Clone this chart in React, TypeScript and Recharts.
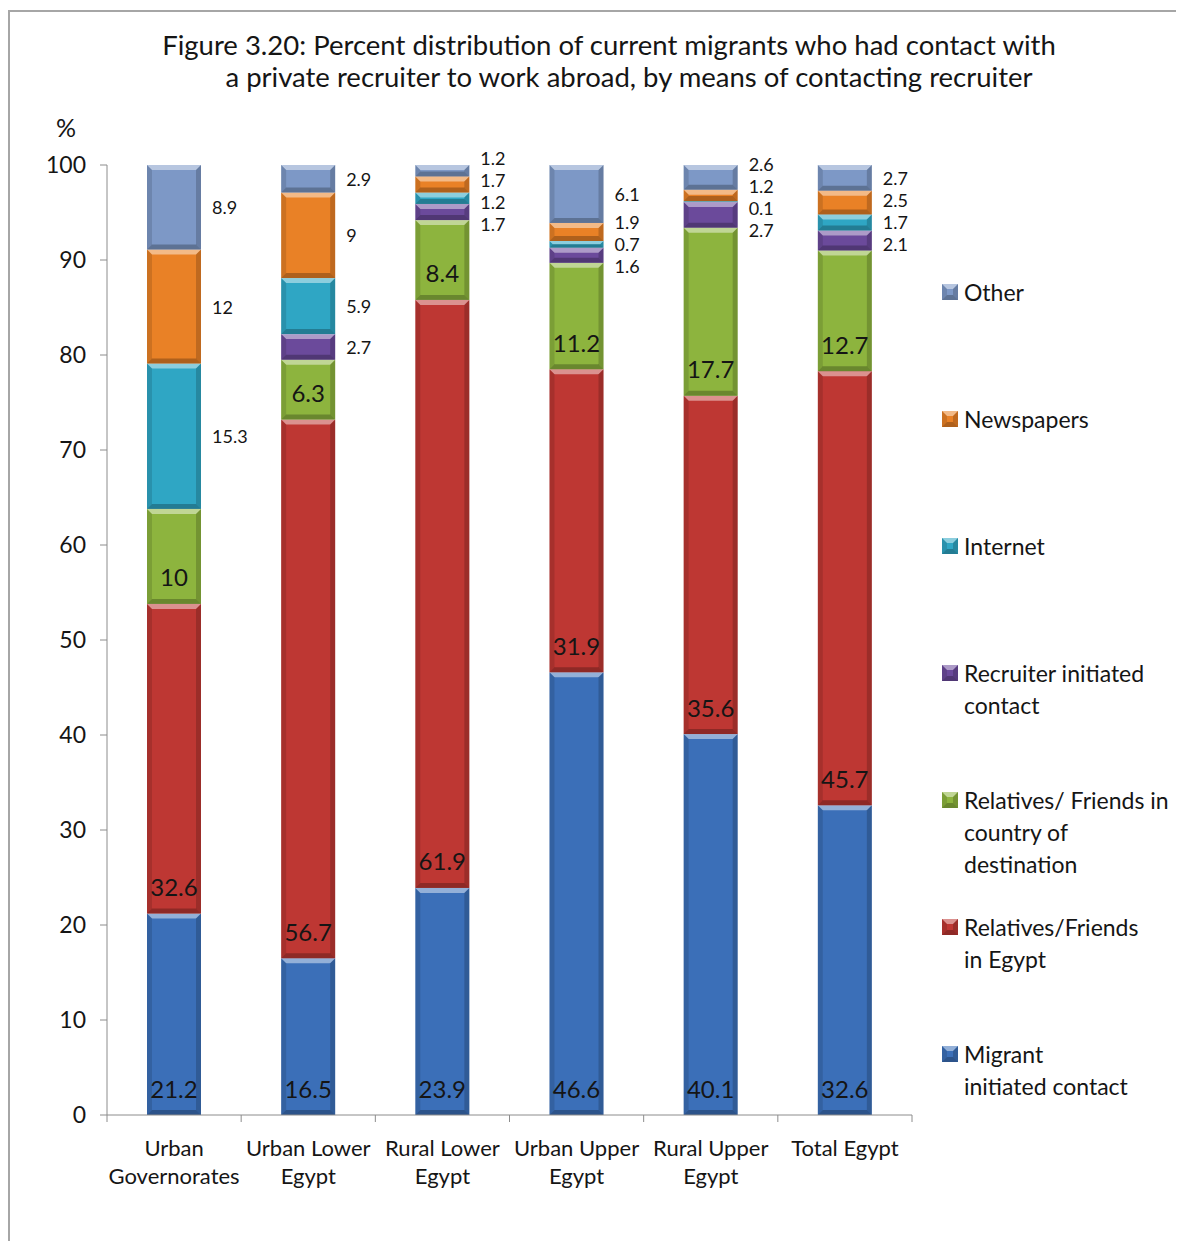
import { BarChart, Bar, XAxis, YAxis, LabelList, Legend } from 'recharts'

// values, bottom segment first
const categories = [
  'Urban\nGovernorates',
  'Urban Lower\nEgypt',
  'Rural Lower\nEgypt',
  'Urban Upper\nEgypt',
  'Rural Upper\nEgypt',
  'Total Egypt',
]
const migrantInitiated = [21.2, 16.5, 23.9, 46.6, 40.1, 32.6]
const relativesEgypt = [32.6, 56.7, 61.9, 31.9, 35.6, 45.7]
const relativesDestination = [10, 6.3, 8.4, 11.2, 17.7, 12.7]
const recruiterInitiated = [0, 2.7, 1.7, 1.6, 2.7, 2.1]
const internet = [15.3, 5.9, 1.2, 0.7, 0.1, 1.7]
const newspapers = [12, 9, 1.7, 1.9, 1.2, 2.5]
const other = [8.9, 2.9, 1.2, 6.1, 2.6, 2.7]
const yTicks = [0, 10, 20, 30, 40, 50, 60, 70, 80, 90, 100]

const series = [
  { key: 'migrant', name: 'Migrant\ninitiated contact', color: '#3B6FB8', values: migrantInitiated, inside: true },
  { key: 'relEgypt', name: 'Relatives/Friends\nin Egypt', color: '#BE3733', values: relativesEgypt, inside: true },
  { key: 'relDest', name: 'Relatives/ Friends in\ncountry of\ndestination', color: '#8DB43E', values: relativesDestination, inside: true },
  { key: 'recruiter', name: 'Recruiter initiated\ncontact', color: '#6B4A9B', values: recruiterInitiated, inside: false },
  { key: 'internet', name: 'Internet', color: '#2FA6C4', values: internet, inside: false },
  { key: 'newspapers', name: 'Newspapers', color: '#E98126', values: newspapers, inside: false },
  { key: 'other', name: 'Other', color: '#7D98C6', values: other, inside: false },
]

const rows = categories.map((category, i) => {
  const row: Record<string, any> = { category }
  series.forEach((s) => (row[s.key] = s.values[i]))
  return row
})

const FONT = 'Lato, "Noto Sans", sans-serif'
const outsideKeys = series.filter((s) => !s.inside).map((s) => s.key)
const insideKeys = series.filter((s) => s.inside).map((s) => s.key)

function BevelBar(props: any) {
  const { x, y, width, fill } = props
  const h = Math.abs(props.height || 0)
  const top = props.height < 0 ? y - h : y
  if (!h || !width) return null
  const b = Math.min(5, h / 2, width / 2)
  const r = x + width
  const btm = top + h
  return (
    <g>
      <rect x={x} y={top} width={width} height={h} fill={fill} />
      <polygon points={`${x},${top} ${r},${top} ${r - b},${top + b} ${x + b},${top + b}`} fill="#fff" fillOpacity={0.45} />
      <polygon points={`${x},${top} ${x + b},${top + b} ${x + b},${btm - b} ${x},${btm}`} fill="#000" fillOpacity={0.12} />
      <polygon points={`${r},${top} ${r - b},${top + b} ${r - b},${btm - b} ${r},${btm}`} fill="#000" fillOpacity={0.18} />
      <polygon points={`${x},${btm} ${r},${btm} ${r - b},${btm - b} ${x + b},${btm - b}`} fill="#000" fillOpacity={0.25} />
    </g>
  )
}

function boxOf(props: any) {
  const vb = props.viewBox || {}
  const x = props.x ?? vb.x
  const y = props.y ?? vb.y
  const width = props.width ?? vb.width
  const height = props.height ?? vb.height
  return { x, y: height < 0 ? y + height : y, width, height: Math.abs(height) }
}

function InsideLabel(props: any) {
  const { x, y, width, height } = boxOf(props)
  if (props.value == null) return null
  return (
    <text x={x + width / 2} y={y + height - 27} textAnchor="middle" dominantBaseline="central"
      fontSize={24} fontFamily={FONT} fill="#151515">
      {props.value}
    </text>
  )
}

// small segments: label to the right, spread apart so they don't collide
function OutsideLabel(props: any) {
  const { x, y, width, height } = boxOf(props)
  const i = props.index
  const key = props.seriesKey
  const row = rows[i]
  if (!row || !row[key]) return null
  const base0 = insideKeys.reduce((a, k) => a + row[k], 0)
  const myIdx = outsideKeys.indexOf(key)
  const myBase = base0 + outsideKeys.slice(0, myIdx).reduce((a, k) => a + row[k], 0)
  const ppu = height / row[key]
  const toPx = (v: number) => y + height - (v - myBase) * ppu
  const items: { k: string; c: number }[] = []
  let cum = base0
  outsideKeys.forEach((k) => {
    const v = row[k]
    if (v > 0) items.push({ k, c: toPx(cum + v / 2) })
    cum += v
  })
  items.sort((a, b) => a.c - b.c)
  const gap = 22
  for (let it = 0; it < 60; it++) {
    for (let j = 0; j < items.length - 1; j++) {
      const d = items[j + 1].c - items[j].c
      if (d < gap) {
        const push = (gap - d) / 2
        items[j].c -= push
        items[j + 1].c += push
      }
    }
  }
  const me = items.find((t) => t.k === key)
  if (!me) return null
  return (
    <text x={x + width + 11} y={me.c} dominantBaseline="central" fontSize={18} fontFamily={FONT} fill="#151515">
      {props.value}
    </text>
  )
}

function CategoryTick(props: any) {
  const { x, y, payload, index } = props
  const half = payload.offset || 67
  const lines = String(payload.value).split('\n')
  return (
    <g>
      <line x1={x - half} x2={x - half} y1={y} y2={y + 7} stroke="#8c8c8c" />
      {index === categories.length - 1 && (
        <line x1={x + half} x2={x + half} y1={y} y2={y + 7} stroke="#8c8c8c" />
      )}
      {lines.map((l, k) => (
        <text key={k} x={x} y={y + 32 + k * 28} textAnchor="middle" dominantBaseline="central"
          fontSize={22} fontFamily={FONT} fill="#151515">
          {l}
        </text>
      ))}
    </g>
  )
}

function LegendBox(props: any) {
  const order = series.map((s) => s.name)
  const items = [...(props.payload || [])]
    .sort((a: any, b: any) => order.indexOf(a.value) - order.indexOf(b.value))
    .reverse()
  return (
    <div style={{ fontFamily: FONT, fontSize: 23, color: '#151515' }}>
      {items.map((p: any) => (
        <div key={p.value} style={{ height: 127, display: 'flex', alignItems: 'flex-start' }}>
          <svg width={16} height={16} style={{ marginTop: 8, marginRight: 6, flex: 'none' }}>
            <BevelBar x={0} y={0} width={16} height={16} fill={p.color} />
          </svg>
          <div style={{ whiteSpace: 'pre-line', lineHeight: '32px' }}>{p.value}</div>
        </div>
      ))}
    </div>
  )
}

export default function App() {
  return (
    <div
      style={{
        position: 'relative',
        top: 2,
        width: 1176,
        height: 1233,
        borderLeft: '2px solid #a6a6a6',
        borderTop: '2px solid #a6a6a6',
        boxSizing: 'border-box',
        fontFamily: FONT,
      }}
    >
      <div style={{ position: 'absolute', top: 17, left: 0, width: 1174, fontSize: 27.5, lineHeight: '32px', color: '#151515' }}>
        <div style={{ textAlign: 'center', paddingLeft: 24 }}>
          Figure 3.20: Percent distribution of current migrants who had contact with
        </div>
        <div style={{ textAlign: 'center', paddingLeft: 64 }}>
          a private recruiter to work abroad, by means of contacting recruiter
        </div>
      </div>
      <div style={{ position: 'absolute', left: 46, top: 100, fontSize: 25, color: '#151515' }}>%</div>
      <BarChart
        width={1174}
        height={1228}
        data={rows}
        barSize={54}
        margin={{ top: 153, right: 32, bottom: 45, left: 0 }}
      >
        <XAxis
          dataKey="category"
          height={80}
          interval={0}
          tickSize={0}
          tickMargin={0}
          tickLine={false}
          axisLine={{ stroke: '#8c8c8c' }}
          tick={<CategoryTick />}
        />
        <YAxis
          width={97}
          domain={[0, 100]}
          ticks={yTicks}
          interval={0}
          tickSize={7}
          tickMargin={14}
          axisLine={{ stroke: '#8c8c8c' }}
          tickLine={{ stroke: '#8c8c8c' }}
          tick={{ fontSize: 23, fill: '#151515', fontFamily: FONT }}
        />
        <Legend
          layout="horizontal"
          verticalAlign="middle"
          align="right"
          wrapperStyle={{ left: 932, top: 264, width: 240 }}
          content={<LegendBox />}
        />
        {series.map((s) => (
          <Bar
            key={s.key}
            dataKey={s.key}
            name={s.name}
            stackId="a"
            fill={s.color}
            isAnimationActive={false}
            shape={(p: any) => <BevelBar {...p} />}
          >
            <LabelList
              dataKey={s.key}
              content={(p: any) =>
                s.inside ? <InsideLabel {...p} /> : <OutsideLabel {...p} seriesKey={s.key} />
              }
            />
          </Bar>
        ))}
      </BarChart>
    </div>
  )
}
